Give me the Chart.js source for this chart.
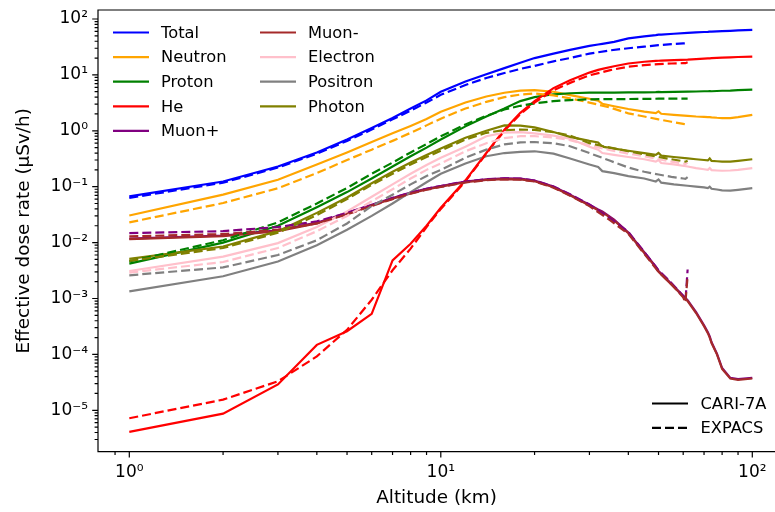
<!DOCTYPE html>
<html>
<head>
<meta charset="utf-8">
<script src="https://cdn.jsdelivr.net/npm/chart.js@4.4.0/dist/chart.umd.min.js"></script>
<style>
  html, body { margin: 0; padding: 0; background: #fff; overflow: hidden; }
  canvas { display: block; }
</style>
</head>
<body>
<canvas id="doseChart" width="775" height="512"></canvas>
<script>
// Altitudes (km) of each model
var cariAlt = [1,2,3,4,5,6,7,8,9,10,12,14,16,18,20,23,26,30,32,33,36,40,45,49,50,51,56,62,66,70,72,73,74,77,80,85,90,100];
var expacsAlt = [1,2,3,4,5,6,7,8,9,10,12,14,16,18,20,23,26,30,35,40,45,50,55,60,61,62];

var particles = ['Total', 'Neutron', 'Proton', 'He', 'Muon+', 'Muon-', 'Electron', 'Positron', 'Photon'];
var colors = ['#0000ff', '#ffa500', '#008000', '#ff0000', '#800080', '#a52a2a', '#ffc0cb', '#808080', '#808000'];

// CARI-7A effective dose rate (uSv/h)
var cariTotal = [0.067,0.124,0.23,0.41,0.70,1.12,1.7,2.5,3.5,5.0, 7.6,10.3,13.2,16.5,20, 24,28,33,35,36, 39,45,49,51.5,52.5, 52.5,54.5,56.5,57.5,58.5, 59,59.5,59.5,60,60.5, 61.5,62.5,64];
var cariNeutron = [0.0305,0.072,0.133,0.25,0.41,0.63,0.9,1.22,1.62,2.2, 3.2,4.1,4.8,5.25,5.35, 5.0,4.35,3.75,3.45,3.05, 2.75,2.45,2.2,2.07,2.22, 2.02,1.93,1.85,1.8,1.77, 1.75,1.76,1.74,1.71,1.69, 1.68,1.75,1.92];
var cariProton = [0.0042,0.010,0.020,0.043,0.08,0.14,0.23,0.35,0.5,0.7, 1.2,1.8,2.5,3.4,4.0, 4.5,4.7,4.8,4.8,4.8, 4.82,4.85,4.85,4.9,4.95, 4.9,4.95,5.0,5.05,5.1, 5.1,5.12,5.1,5.15,5.2, 5.25,5.35,5.45];
var cariHe = [4.1e-6,8.7e-6,2.9e-5,1.48e-4,2.6e-4,5.3e-4,4.8e-3,0.0095,0.02,0.042, 0.13,0.4,1.05,2.1,3.4, 5.8,8.0,11,12.3,12.8, 14.3,16,17.2,17.8,17.9, 18,18.4,18.8,19.2,19.5, 19.7,19.8,19.9,20.1,20.3, 20.6,20.9,21.3];
var cariMuonPlus = [0.0118,0.0134,0.0165,0.0227,0.034,0.0474,0.0628,0.0783,0.0917,0.103, 0.124,0.136,0.141,0.139,0.129, 0.101,0.072,0.0474,0.0391,0.036, 0.0258,0.0152,0.0067,0.0037,0.0031, 0.0028,0.00165,0.00093,0.00057,0.00033, 0.00025,0.00021,0.000165,0.000103,5.7e-5, 3.8e-5,3.6e-5,3.8e-5];
var cariMuonMinus = [0.0115,0.013,0.016,0.022,0.033,0.046,0.061,0.076,0.089,0.1, 0.12,0.132,0.137,0.135,0.125, 0.098,0.07,0.046,0.038,0.035, 0.025,0.0148,0.0065,0.0036,0.003, 0.0027,0.0016,0.0009,0.00055,0.00032, 0.00024,0.0002,0.00016,0.0001,5.5e-5, 3.7e-5,3.5e-5,3.7e-5];
var cariElectron = [0.0031,0.0056,0.0098,0.019,0.036,0.066,0.11,0.17,0.245,0.33, 0.52,0.8,0.93,0.95,0.9, 0.82,0.72,0.52,0.46,0.4, 0.37,0.34,0.31,0.28,0.3, 0.265,0.25,0.23,0.215,0.205, 0.2,0.215,0.198,0.195,0.193, 0.195,0.2,0.215];
var cariPositron = [0.00134,0.0025,0.0046,0.009,0.017,0.03,0.05,0.08,0.12,0.17, 0.26,0.35,0.4,0.42,0.43, 0.39,0.32,0.25,0.225,0.19, 0.175,0.155,0.14,0.124,0.135, 0.118,0.11,0.104,0.1,0.097, 0.094,0.1,0.092,0.089,0.086, 0.085,0.088,0.094];
var cariPhoton = [0.0051,0.0085,0.016,0.034,0.064,0.115,0.185,0.27,0.37,0.48, 0.75,1.0,1.25,1.24,1.15, 0.95,0.78,0.66,0.62,0.52, 0.48,0.44,0.4,0.37,0.4, 0.36,0.34,0.32,0.31,0.30, 0.295,0.32,0.29,0.285,0.28, 0.28,0.29,0.31];

// EXPACS effective dose rate (uSv/h)
var expacsTotal = [0.063,0.118,0.22,0.39,0.66,1.05,1.6,2.3,3.2,4.4, 6.6,8.8,10.8,12.8,14.5, 17.5,20,24,27.5,30, 32,34,35.5,36.5,36.7, 38];
var expacsNeutron = [0.023,0.051,0.094,0.175,0.3,0.46,0.66,0.92,1.25,1.65, 2.5,3.3,4.0,4.45,4.65, 4.3,3.8,3.2,2.6,2.05, 1.8,1.6,1.45,1.33,1.3, 1.4];
var expacsProton = [0.0046,0.011,0.023,0.05,0.095,0.17,0.27,0.41,0.58,0.8, 1.3,1.85,2.4,2.8,3.1, 3.4,3.55,3.65,3.7,3.7, 3.72,3.75,3.75,3.75,3.75, 3.75];
var expacsHe = [7.2e-6,1.55e-5,3.3e-5,9.2e-5,2.75e-4,9.5e-4,3.2e-3,0.0078,0.019,0.04, 0.125,0.39,1.0,2.0,3.2, 5.3,7.2,9.8,12.2,14.0, 15.0,15.6,16.0,16.2,16.2, 16.8];
var expacsMuonPlus = [0.0148,0.016,0.019,0.024,0.034,0.047,0.063,0.078,0.092,0.103, 0.124,0.136,0.141,0.139,0.129, 0.101,0.073,0.048,0.027,0.0155, 0.0068,0.0032,0.0019,0.0011,0.0009, 0.0033];
var expacsMuonMinus = [0.0129,0.0142,0.017,0.022,0.032,0.045,0.06,0.075,0.088,0.099, 0.119,0.131,0.136,0.134,0.124, 0.096,0.069,0.045,0.025,0.0143, 0.0063,0.003,0.0018,0.00105,0.00085, 0.0025];
var expacsElectron = [0.0029,0.0045,0.008,0.016,0.03,0.055,0.09,0.14,0.2,0.26, 0.43,0.6,0.74,0.8,0.8, 0.76,0.68,0.55,0.45,0.39, 0.35,0.31,0.28,0.26,0.255, 0.27];
var expacsPositron = [0.0026,0.0036,0.006,0.011,0.022,0.045,0.072,0.11,0.155,0.2, 0.33,0.46,0.57,0.62,0.63, 0.6,0.53,0.4,0.29,0.22, 0.185,0.165,0.15,0.14,0.138, 0.148];
var expacsPhoton = [0.0047,0.008,0.015,0.031,0.06,0.108,0.17,0.25,0.34,0.44, 0.7,0.92,1.03,1.05,1.04, 0.95,0.82,0.6,0.5,0.43, 0.38,0.34,0.31,0.285,0.28, 0.29];

var cariSeries = [cariTotal, cariNeutron, cariProton, cariHe, cariMuonPlus, cariMuonMinus, cariElectron, cariPositron, cariPhoton];
var expacsSeries = [expacsTotal, expacsNeutron, expacsProton, expacsHe, expacsMuonPlus, expacsMuonMinus, expacsElectron, expacsPositron, expacsPhoton];

// Tick labels (decades)
var xTickValues = [1, 10, 100];
var xTickLabels = ['10⁰', '10¹', '10²'];
var yTickValues = [1e-5, 1e-4, 1e-3, 1e-2, 1e-1, 1, 10, 100];
var yTickLabels = ['10⁻⁵', '10⁻⁴', '10⁻³', '10⁻²', '10⁻¹', '10⁰', '10¹', '10²'];
var modelNames = ['CARI-7A', 'EXPACS'];

var FONT = '"DejaVu Sans", sans-serif';
var DASH = [9, 4];

function decadeLabel(values, labels, v) {
    for (var i = 0; i < values.length; i++) {
        if (Math.abs(v / values[i] - 1) < 1e-6) return labels[i];
    }
    return '';
}

// 2 = decade, 1 = minor (2..9), 0 = not a tick
function tickKind(v) {
    var e = Math.floor(Math.log10(v) + 1e-9);
    var m = v / Math.pow(10, e);
    if (Math.abs(m - Math.round(m)) > 1e-6) return 0;
    return Math.round(m) === 1 ? 2 : 1;
}

// spines + log tick marks; the right spine sits just past the picture edge
var axesPlugin = {
    id: 'axesPlugin',
    afterDraw: function(chart) {
        var ctx = chart.ctx, a = chart.chartArea;
        var xs = chart.scales.x, ys = chart.scales.y;
        ctx.save();
        ctx.strokeStyle = '#000';
        ctx.lineWidth = 1.2;
        ctx.setLineDash([]);
        ctx.beginPath();
        xs.ticks.forEach(function(t) {
            var k = tickKind(t.value);
            if (!k) return;
            var px = xs.getPixelForValue(t.value);
            if (px < a.left - 0.5 || px > a.right - 1) return;
            ctx.moveTo(px, a.bottom);
            ctx.lineTo(px, a.bottom + (k === 2 ? 5.8 : 3.4));
        });
        ys.ticks.forEach(function(t) {
            var k = tickKind(t.value);
            if (!k) return;
            var py = ys.getPixelForValue(t.value);
            if (py < a.top - 0.5 || py > a.bottom + 0.5) return;
            ctx.moveTo(a.left, py);
            ctx.lineTo(a.left - (k === 2 ? 5.8 : 3.4), py);
        });
        ctx.moveTo(a.right, a.top);
        ctx.lineTo(a.left, a.top);
        ctx.lineTo(a.left, a.bottom);
        ctx.lineTo(a.right, a.bottom);
        ctx.stroke();
        ctx.restore();
    }
};

// the two legends (particles upper left, models lower right)
var legendPlugin = {
    id: 'legendPlugin',
    afterDraw: function(chart) {
        var ctx = chart.ctx;
        ctx.save();
        ctx.font = '16.3px ' + FONT;
        ctx.textBaseline = 'middle';
        ctx.lineWidth = 2.2;
        particles.forEach(function(name, i) {
            var col = i < 5 ? 0 : 1;
            var row = i < 5 ? i : i - 5;
            var x0 = col === 0 ? 113 : 260;
            var y = 32.5 + row * 24.6;
            ctx.setLineDash([]);
            ctx.strokeStyle = colors[i];
            ctx.beginPath();
            ctx.moveTo(x0, y);
            ctx.lineTo(x0 + 36, y);
            ctx.stroke();
            ctx.fillStyle = '#000';
            ctx.fillText(name, x0 + 48, y + 1);
        });
        modelNames.forEach(function(name, i) {
            var y = 403.5 + i * 24.4;
            ctx.setLineDash(i === 0 ? [] : DASH);
            ctx.strokeStyle = '#000';
            ctx.beginPath();
            ctx.moveTo(652, y);
            ctx.lineTo(688, y);
            ctx.stroke();
            ctx.fillStyle = '#000';
            ctx.fillText(name, 700.5, y + 1);
        });
        ctx.restore();
    }
};

document.addEventListener('DOMContentLoaded', function() {
    var datasets = [];
    cariSeries.forEach(function(vals, i) {
        datasets.push({
            label: particles[i] + ' CARI-7A',
            data: cariAlt.map(function(alt, k) { return {x: alt, y: vals[k]}; }),
            borderColor: colors[i],
            borderWidth: 2.2,
            pointRadius: 0,
            fill: false,
            tension: 0
        });
    });
    expacsSeries.forEach(function(vals, i) {
        datasets.push({
            label: particles[i] + ' EXPACS',
            data: expacsAlt.map(function(alt, k) { return {x: alt, y: vals[k]}; }),
            borderColor: colors[i],
            borderWidth: 2.2,
            borderDash: DASH,
            pointRadius: 0,
            fill: false,
            tension: 0
        });
    });
    // later datasets on top, like matplotlib
    datasets.forEach(function(d, i) { d.order = -i; });

    var chart = new Chart(document.getElementById('doseChart'), {
        type: 'line',
        data: { datasets: datasets },
        options: {
            responsive: false,
            animation: false,
            layout: { padding: { top: 10, right: 0, left: 0, bottom: 0 } },
            plugins: { legend: { display: false }, tooltip: { enabled: false } },
            scales: {
                x: {
                    type: 'logarithmic',
                    min: Math.pow(10, -0.1005),
                    max: Math.pow(10, 2.0729),
                    grid: { display: false, drawTicks: false },
                    border: { display: false },
                    ticks: {
                        autoSkip: false,
                        maxRotation: 0,
                        padding: 11,
                        color: '#000',
                        font: { family: FONT, size: 17 },
                        callback: function(v) { return decadeLabel(xTickValues, xTickLabels, v); }
                    },
                    title: {
                        display: true,
                        text: 'Altitude (km)',
                        color: '#000',
                        font: { family: FONT, size: 18.4 },
                        padding: { top: 0, bottom: 3 }
                    },
                    afterFit: function(s) {
                        s.height = 60.3;
                        s.paddingLeft = 0;
                        s.paddingRight = 0;
                    }
                },
                y: {
                    type: 'logarithmic',
                    min: Math.pow(10, -5.741),
                    max: Math.pow(10, 2.161),
                    grid: { display: false, drawTicks: false },
                    border: { display: false },
                    ticks: {
                        autoSkip: false,
                        padding: 10,
                        color: '#000',
                        font: { family: FONT, size: 17 },
                        callback: function(v) { return decadeLabel(yTickValues, yTickLabels, v); }
                    },
                    title: {
                        display: true,
                        text: 'Effective dose rate (μSv/h)',
                        color: '#000',
                        font: { family: FONT, size: 18.4 },
                        padding: { top: 13.5, bottom: 0 }
                    },
                    afterFit: function(s) {
                        s.width = 98;
                        s.paddingTop = 0;
                        s.paddingBottom = 0;
                    }
                }
            }
        },
        plugins: [axesPlugin, legendPlugin]
    });
});
</script>
</body>
</html>
